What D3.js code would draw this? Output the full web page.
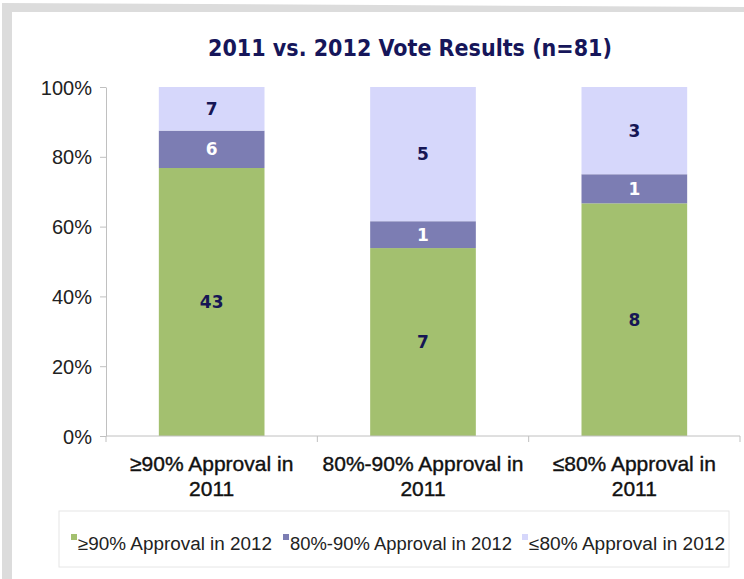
<!DOCTYPE html>
<html><head><meta charset="utf-8">
<script src="https://cdn.jsdelivr.net/npm/d3@7"></script>
<style>body{margin:0;background:#fff}</style>
</head><body>
<svg id="c" width="744" height="579"></svg>
<script>
const categories = ["≥90% Approval in 2011", "80%-90% Approval in 2011", "≤80% Approval in 2011"];
const categoryLines = [["≥90% Approval in", "2011"], ["80%-90% Approval in", "2011"], ["≤80% Approval in", "2011"]];
const seriesNames = ["≥90% Approval in 2012", "80%-90% Approval in 2012", "≤80% Approval in 2012"];
const high2012 = [43, 7, 8];
const mid2012 = [6, 1, 1];
const low2012 = [7, 5, 3];
const yTicks = [0, 0.2, 0.4, 0.6, 0.8, 1.0];
const colors = ["#a3c06f", "#7c7db3", "#d6d7fb"];
const labelColors = ["#161655", "#ffffff", "#161655"];

const svg = d3.select("#c");
svg.append("rect").attr("x",0).attr("y",0).attr("width",744).attr("height",579).attr("fill","#fff");
svg.append("path").attr("d","M2,579 L2,3 L744,7 L744,12 L12,12 L12,579 Z").attr("fill","#dcdcdc");

const x = d3.scaleBand().domain(categories).range([106, 740]).paddingInner(0.5).paddingOuter(0.25);
const y = d3.scaleLinear().domain([0,1]).range([436, 87]);

const rows = categories.map((c,i)=>{
  const tot = high2012[i]+mid2012[i]+low2012[i];
  return {cat:c, s0:high2012[i]/tot, s1:mid2012[i]/tot, s2:low2012[i]/tot, v0:high2012[i], v1:mid2012[i], v2:low2012[i]};
});
const stack = d3.stack().keys(["s0","s1","s2"])(rows);

svg.append("text").attr("x",410).attr("y",56).attr("text-anchor","middle")
  .attr("font-family","DejaVu Sans Condensed, sans-serif").attr("font-weight","bold")
  .attr("font-size",23).attr("fill","#16165a").text("2011 vs. 2012 Vote Results (n=81)");

stack.forEach((layer,k)=>{
  const g = svg.append("g");
  g.selectAll("rect").data(layer).join("rect")
    .attr("x",d=>x(d.data.cat)).attr("width",x.bandwidth())
    .attr("y",d=>y(d[1])).attr("height",d=>y(d[0])-y(d[1]))
    .attr("fill",colors[k]);
  g.selectAll("text").data(layer).join("text")
    .attr("x",d=>x(d.data.cat)+x.bandwidth()/2)
    .attr("y",d=>(y(d[0])+y(d[1]))/2+6)
    .attr("text-anchor","middle")
    .attr("font-family","DejaVu Sans, Verdana, sans-serif").attr("font-weight","bold")
    .attr("font-size",17).attr("fill",labelColors[k])
    .text(d=>d.data["v"+k]);
});

const ya = svg.append("g").attr("transform","translate(106,0)")
  .call(d3.axisLeft(y).tickValues(yTicks).tickFormat(d3.format(".0%")).tickSize(6).tickSizeOuter(0));
ya.select(".domain").attr("stroke","#c0c0c0");
ya.selectAll(".tick line").attr("stroke","#c0c0c0");
ya.selectAll(".tick text").attr("font-family","Liberation Sans, Arial, sans-serif").attr("font-size",20)
  .attr("fill","#222").attr("x",-14).attr("dy","0.35em");

svg.append("line").attr("x1",106).attr("x2",740).attr("y1",436).attr("y2",436).attr("stroke","#c0c0c0");
const bounds = [106, 106+(634/3), 106+2*(634/3), 740];
svg.selectAll(".xt").data(bounds).join("line").attr("class","xt")
  .attr("x1",d=>d).attr("x2",d=>d).attr("y1",436).attr("y2",442).attr("stroke","#c0c0c0");

categories.forEach((c,i)=>{
  const t = svg.append("text").attr("text-anchor","middle")
    .attr("font-family","Liberation Sans, Arial, sans-serif")
    .attr("font-size",21).attr("fill","#111").attr("stroke","#111").attr("stroke-width",0.4);
  categoryLines[i].forEach((ln,j)=>{
    t.append("tspan").attr("x",x(c)+x.bandwidth()/2).attr("y",471+j*25).text(ln);
  });
});

svg.append("rect").attr("x",59).attr("y",511).attr("width",670).attr("height",56)
  .attr("fill","#fff").attr("stroke","#e6e6e6");
const legX = [71, 283, 522];
const legW = [194, 222, 196];
seriesNames.forEach((s,k)=>{
  svg.append("rect").attr("x",legX[k]).attr("y",534).attr("width",6).attr("height",6).attr("fill",colors[k]);
  svg.append("text").attr("x",legX[k]+7).attr("y",550)
    .attr("textLength",legW[k]).attr("lengthAdjust","spacingAndGlyphs")
    .attr("font-family","Liberation Sans, Arial, sans-serif").attr("font-size",18).attr("fill","#222").text(s);
});
</script>
</body></html>
